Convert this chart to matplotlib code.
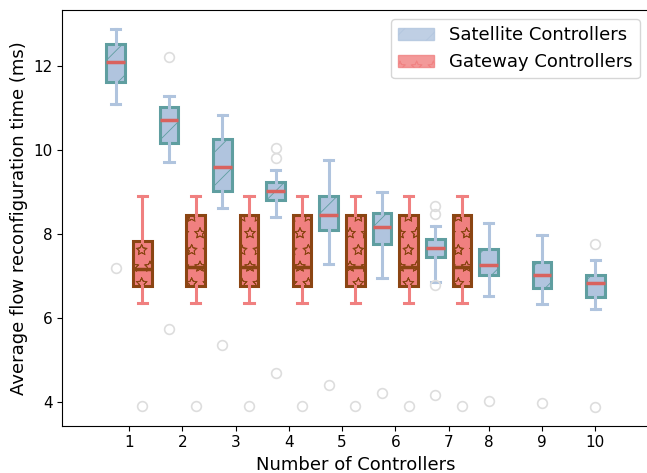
import matplotlib
matplotlib.use("Agg")
import matplotlib.hatch
from matplotlib import pyplot as plt
from matplotlib.patches import Patch

# satellite controllers, 1..10
sat_q1 = [11.62, 10.17, 9.01, 8.81, 8.10, 7.76, 7.45, 7.02, 6.71, 6.49]
sat_med = [12.10, 10.70, 9.60, 9.03, 8.44, 8.17, 7.66, 7.25, 7.03, 6.83]
sat_q3 = [12.52, 11.01, 10.25, 9.23, 8.89, 8.49, 7.87, 7.63, 7.33, 7.02]
sat_lo = [11.09, 9.72, 8.61, 8.41, 7.28, 6.95, 6.86, 6.52, 6.32, 6.21]
sat_hi = [12.88, 11.29, 10.82, 9.52, 9.75, 9.00, 8.18, 8.25, 7.98, 7.38]
sat_fliers = [[7.19], [12.21, 5.74], [5.36], [10.05, 9.80, 4.69], [4.40],
              [4.22], [8.67, 8.47, 6.78, 4.16], [4.03], [3.98], [7.75, 3.88]]

# gateway controllers, 1..7
gw_q1 = [6.75, 6.75, 6.75, 6.75, 6.75, 6.75, 6.75]
gw_med = [7.16, 7.22, 7.22, 7.22, 7.22, 7.22, 7.22]
gw_q3 = [7.84, 8.45, 8.45, 8.45, 8.45, 8.45, 8.45]
gw_lo = [6.36, 6.36, 6.36, 6.36, 6.36, 6.36, 6.36]
gw_hi = [8.91, 8.91, 8.91, 8.91, 8.91, 8.91, 8.91]
gw_fliers = [[3.89], [3.89], [3.89], [3.89], [3.89], [3.89], [3.89]]

tick_labels = [str(i) for i in range(1, 11)]

# outline stars and thin hatch lines like the original
matplotlib.hatch.Stars.filled = False
plt.rcParams['hatch.linewidth'] = 0.6


def make_stats(q1, med, q3, lo, hi, fl):
    out = []
    for i in range(len(med)):
        out.append(dict(med=med[i], q1=q1[i], q3=q3[i], whislo=lo[i],
                        whishi=hi[i], fliers=fl[i]))
    return out


fig = plt.figure(figsize=(6.47, 4.73), dpi=100)
ax = fig.add_axes([62.3 / 647, 47.3 / 473, 586.3 / 647, 415.7 / 473])

sat_pos = list(range(1, 11))
gw_pos = [p + 0.5 for p in range(1, 8)]

flier_style = dict(marker='o', markerfacecolor='none', markeredgecolor='#dddddd',
                   markersize=7, markeredgewidth=1.2)

ax.bxp(make_stats(sat_q1, sat_med, sat_q3, sat_lo, sat_hi, sat_fliers),
       positions=sat_pos, widths=0.35, patch_artist=True,
       boxprops=dict(facecolor='lightsteelblue', edgecolor='cadetblue',
                     linewidth=2.2, hatch='/'),
       whiskerprops=dict(color='lightsteelblue', linewidth=2.2),
       capprops=dict(color='lightsteelblue', linewidth=2.2),
       medianprops=dict(color='#d9625e', linewidth=2.5),
       flierprops=flier_style, manage_ticks=False)

ax.bxp(make_stats(gw_q1, gw_med, gw_q3, gw_lo, gw_hi, gw_fliers),
       positions=gw_pos, widths=0.35, patch_artist=True,
       boxprops=dict(facecolor='lightcoral', edgecolor='saddlebrown',
                     linewidth=2.2, hatch='*'),
       whiskerprops=dict(color='lightcoral', linewidth=2.2),
       capprops=dict(color='lightcoral', linewidth=2.2),
       medianprops=dict(color='saddlebrown', linewidth=2.5),
       flierprops=flier_style, manage_ticks=False)

tick_pos = [p + 0.25 for p in range(1, 8)] + [8, 9, 10]
ax.set_xticks(tick_pos)
ax.set_xticklabels(tick_labels, fontsize=11)
ax.tick_params(axis='y', labelsize=11)
ax.set_xlim(0, 11)
ax.set_ylim(3.43, 13.33)
ax.set_yticks([4, 6, 8, 10, 12])

ax.set_xlabel('Number of Controllers', fontsize=13)
ax.set_ylabel('Average flow reconfiguration time (ms)', fontsize=13)

handles = [Patch(facecolor='lightsteelblue', edgecolor='lightsteelblue', hatch='/', alpha=0.8),
           Patch(facecolor='lightcoral', edgecolor='lightcoral', hatch='*', alpha=0.8)]
ax.legend(handles, ['Satellite Controllers', 'Gateway Controllers'],
          loc='upper right', fontsize=13)

fig.savefig('out.png', dpi=100)
